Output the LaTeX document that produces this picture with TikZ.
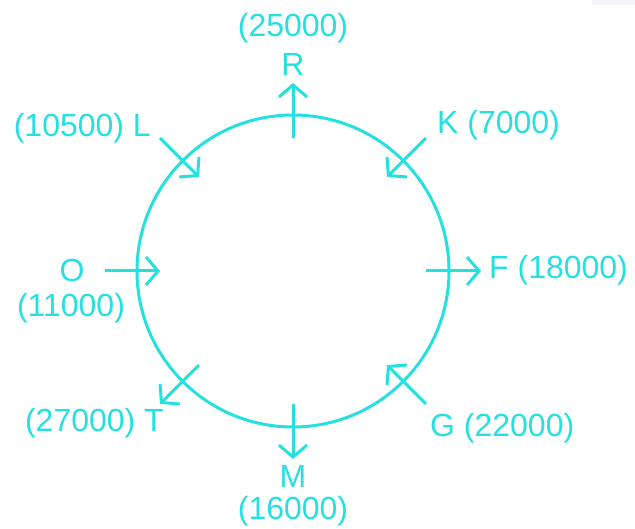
\documentclass[tikz,border=0pt]{standalone}
\usepackage{fontspec}
\setmainfont{Liberation Sans}
\usepackage{xcolor}
\usepackage{tikz}
\usetikzlibrary{arrows.meta,positioning,calc}

\definecolor{aqua}{RGB}{38,224,224}
\definecolor{paper}{RGB}{244,245,250}

\begin{document}
\begin{tikzpicture}[
    x=1pt, y=-1pt,
    every node/.style={font=\fontsize{32}{38}\selectfont, text=aqua, inner sep=0pt},
    ring/.style={circle, draw=aqua, line width=3pt, minimum size=312pt},
    dirarr/.style={-{Straight Barb[length=12pt, width=28pt]}, line width=3pt, aqua}
  ]
    \useasboundingbox (0,0) rectangle (635,529);
    \fill[paper] (592,0) rectangle (635,5);

    % -- circle --
    \node[ring] (hub) at (293,271) {};

    % -- arrows pointing out --
    \foreach \ang/\nm in {90/r, 0/f, -90/m, -135/t} {
      \coordinate (\nm-a) at ($(hub.center)+(\ang:133pt)$);
      \coordinate (\nm-b) at ($(hub.center)+(\ang:188pt)$);
      \draw[dirarr] (\nm-a) -- (\nm-b);
    }

    % -- arrows pointing in --
    \foreach \ang/\nm in {45/k, -45/g, 180/o, 135/l} {
      \coordinate (\nm-a) at ($(hub.center)+(\ang:133pt)$);
      \coordinate (\nm-b) at ($(hub.center)+(\ang:188pt)$);
      \draw[dirarr] (\nm-b) -- (\nm-a);
    }

    % -- labels --
    \node (r-lab) at (293,64) {R};
    \node (r-val) at (293,28) {(25000)};
    \node[anchor=west] (k-lab) at (437,125) {K (7000)};
    \node[anchor=west] (f-lab) at (489,270) {F (18000)};
    \node[anchor=west] (g-lab) at (430,428) {G (22000)};
    \node (m-lab) at (293,476) {M};
    \node (m-val) at (293,511) {(16000)};
    \node[anchor=east] (t-lab) at (164,423) {(27000) T};
    \node (o-lab) at (72,270) {O};
    \node (o-val) at (71,308) {(11000)};
    \node[anchor=east] (l-lab) at (151,128) {(10500) L};

  \end{tikzpicture}
\end{document}
